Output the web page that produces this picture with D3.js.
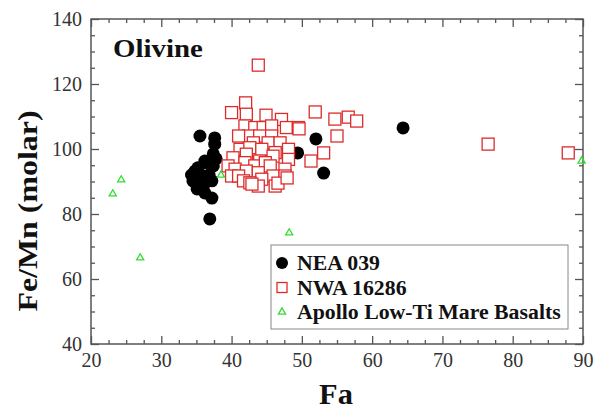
<!DOCTYPE html>
<html lang="en">
<head>
<meta charset="UTF-8">
<title>Olivine Fe/Mn vs Fa</title>
<style>
  body { margin: 0; background: #fff; }
</style>
</head>
<body>
<svg id="chart" width="598" height="410"></svg>
<script src="https://cdn.jsdelivr.net/npm/d3@7"></script>
<script>
// NEA 039 (black circles) [Fa, Fe/Mn]
var nea039 = [
  [35.5, 104.0], [37.6, 103.4], [37.6, 101.5], [37.4, 98.5], [36.5, 95.7],
  [36.2, 96.3], [35.2, 94.2], [37.4, 94.8], [34.8, 93.2], [35.5, 92.3],
  [34.5, 90.2], [37.2, 90.2], [36.2, 89.5], [35.1, 87.7], [36.2, 86.5],
  [37.2, 84.9], [36.9, 78.5], [34.3, 92.0], [36.8, 92.0], [37.8, 97.0],
  [49.4, 98.8], [52.0, 103.1], [53.1, 92.6], [64.4, 106.5]
];

// NWA 16286 (red open squares)
var nwa16286 = [
  [42.0, 114.2], [40.0, 111.2], [42.1, 110.7], [44.9, 110.4], [47.1, 109.1],
  [47.8, 106.6], [49.5, 106.6], [41.9, 107.1], [43.3, 106.6], [44.5, 106.6],
  [45.7, 107.1], [42.4, 104.0], [44.0, 104.0], [45.7, 104.0], [41.0, 104.0],
  [43.1, 101.9], [45.2, 101.9], [46.9, 101.9], [41.2, 99.9], [42.6, 100.4],
  [44.3, 99.9], [46.2, 98.9], [48.1, 99.9], [40.2, 97.3], [42.1, 98.4],
  [44.0, 96.3], [45.9, 97.8], [48.1, 96.8], [39.5, 94.8], [41.9, 95.8],
  [43.3, 94.8], [44.8, 95.8], [45.5, 94.8], [47.6, 93.8], [40.5, 93.8],
  [42.1, 93.2], [43.8, 92.7], [40.0, 91.7], [41.0, 91.7], [45.9, 91.7],
  [47.6, 91.7], [44.3, 90.7], [41.7, 90.2], [42.6, 89.6], [43.8, 88.6],
  [46.2, 88.6], [42.9, 89.2], [46.6, 89.5], [47.9, 91.1],
  [43.8, 125.8], [51.9, 111.4], [54.7, 109.2], [56.6, 109.8], [57.8, 108.6],
  [55.0, 104.0], [53.1, 98.8], [51.3, 96.3], [49.6, 106.2],
  [76.5, 101.5], [87.9, 98.8]
];

// Apollo Low-Ti Mare Basalts (green open triangles)
var apollo = [
  [23.1, 86.2], [24.3, 90.5], [27.0, 66.5], [38.5, 92.0],
  [48.2, 74.2], [63.5, 68.3], [89.8, 96.3]
];

var xTicks = [20, 30, 40, 50, 60, 70, 80, 90];
var yTicks = [40, 60, 80, 100, 120, 140];

var svg = d3.select("#chart"),
    mLeft = 91, mRight = 583, mTop = 19, mBottom = 344,
    axisColor = "#555",
    red = "#dd2b2b",
    green = "#33dd33",
    serif = "'Liberation Serif', 'Times New Roman', serif";

var x = d3.scaleLinear().domain([20, 90]).range([mLeft, mRight]);
var y = d3.scaleLinear().domain([40, 140]).range([mBottom, mTop]);

// axes: ticks point inward, on all four sides
function axis(gen, scale, ticks, minorStep, transform, size, minorSize) {
  var minor = d3.range(scale.domain()[0], scale.domain()[1] + 0.01, minorStep)
    .filter(function(v) { return ticks.indexOf(v) < 0; });
  svg.append("g").attr("transform", transform)
    .call(gen(scale).tickValues(minor).tickSize(minorSize).tickFormat(""));
  return svg.append("g").attr("transform", transform)
    .call(gen(scale).tickValues(ticks).tickSize(size));
}

var gx = axis(d3.axisTop, x, xTicks, 2.5, "translate(0," + mBottom + ")", 8, 4);
gx.selectAll("text").attr("y", 9).attr("dy", "0.71em");
axis(d3.axisBottom, x, xTicks, 2.5, "translate(0," + mTop + ")", 8, 4)
  .selectAll("text").remove();
var gy = axis(d3.axisRight, y, yTicks, 5, "translate(" + mLeft + ",0)", 8, 4);
gy.selectAll("text").attr("text-anchor", "end").attr("x", -9).attr("dy", "0.33em");
axis(d3.axisLeft, y, yTicks, 5, "translate(" + mRight + ",0)", 8, 4)
  .selectAll("text").remove();

svg.selectAll("g").attr("font-family", null);
svg.selectAll(".tick line").attr("stroke", axisColor).attr("stroke-width", 1.3);
svg.selectAll(".domain").remove();
svg.selectAll(".tick text").attr("fill", "#333")
  .style("font-family", serif).style("font-size", "20px");

svg.append("rect")
  .attr("x", mLeft).attr("y", mTop)
  .attr("width", mRight - mLeft).attr("height", mBottom - mTop)
  .attr("fill", "none").attr("stroke", axisColor).attr("stroke-width", 1.5);

// points
var plot = svg.append("g");

plot.selectAll("circle.nea").data(nea039).enter().append("circle")
  .attr("cx", function(d) { return x(d[0]); })
  .attr("cy", function(d) { return y(d[1]); })
  .attr("r", 6.5).attr("fill", "#000");

plot.selectAll("rect.nwa").data(nwa16286).enter().append("rect")
  .attr("x", function(d) { return x(d[0]) - 6; })
  .attr("y", function(d) { return y(d[1]) - 6; })
  .attr("width", 12).attr("height", 12)
  .attr("fill", "#fff").attr("stroke", red).attr("stroke-width", 1.3);

var tri = d3.symbol().type(d3.symbolTriangle).size(22);
plot.selectAll("path.apollo").data(apollo).enter().append("path")
  .attr("d", tri)
  .attr("transform", function(d) { return "translate(" + x(d[0]) + "," + y(d[1]) + ")"; })
  .attr("fill", "none").attr("stroke", green).attr("stroke-width", 1.3);

// bold labels; the original type is a bit wider than Times, so stretch it
function label(parent, xp, yp, size, txt, sx, rot) {
  return parent.append("text")
    .attr("transform", "translate(" + xp + "," + yp + ") rotate(" + (rot || 0) + ") scale(" + sx + ",1)")
    .style("font-family", serif).style("font-size", size + "px")
    .style("font-weight", "bold").attr("fill", "#111").text(txt);
}

label(svg, 113, 57, 26, "Olivine", 1.11);
label(svg, (mLeft + mRight) / 2 - 1, 404, 29, "Fa", 1.05).attr("text-anchor", "middle");
label(svg, 37, 211, 28, "Fe/Mn (molar)", 1.14, -90).attr("text-anchor", "middle");

// legend
var legend = svg.append("g");
legend.append("rect").attr("x", 271).attr("y", 245).attr("width", 297).attr("height", 84)
  .attr("fill", "#fff").attr("stroke", "#888").attr("stroke-width", 1);

var items = ["NEA 039", "NWA 16286", "Apollo Low-Ti Mare Basalts"];
items.forEach(function(name, i) {
  var cy = 263 + i * 24.5;
  if (i == 0) {
    legend.append("circle").attr("cx", 282).attr("cy", cy).attr("r", 6).attr("fill", "#000");
  } else if (i == 1) {
    legend.append("rect").attr("x", 277).attr("y", cy - 5).attr("width", 10).attr("height", 10)
      .attr("fill", "#fff").attr("stroke", red).attr("stroke-width", 1.3);
  } else {
    legend.append("path").attr("d", tri).attr("transform", "translate(282," + cy + ")")
      .attr("fill", "none").attr("stroke", green).attr("stroke-width", 1.3);
  }
  label(legend, 297, cy + 7, 20, name, 1.09);
});
</script>
</body>
</html>
